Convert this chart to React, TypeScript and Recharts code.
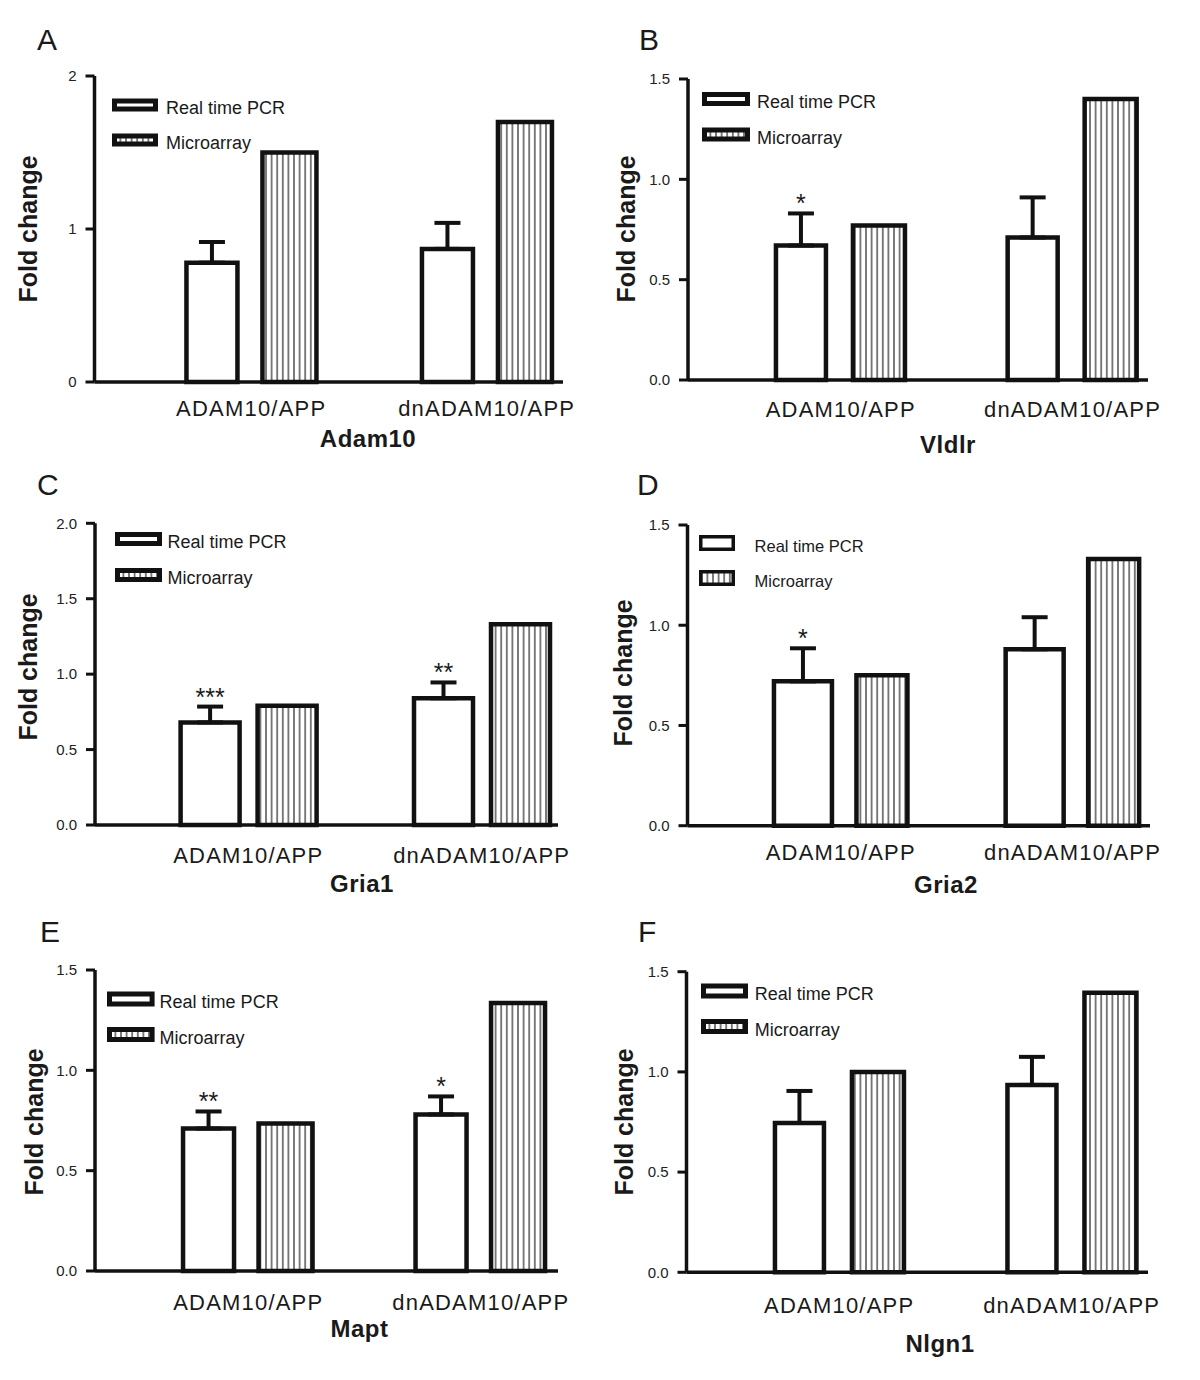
import { BarChart, Bar, XAxis, YAxis, ErrorBar, LabelList, Legend, Label } from "recharts";

const FONT = '"Liberation Sans", Arial, Helvetica, sans-serif';
const INK = "#111";

// categories shared by every panel
const groups = ["ADAM10/APP", "dnADAM10/APP"];
const seriesNames = ["Real time PCR", "Microarray"];

// A - Adam10
const adam10Pcr = [0.78, 0.87];
const adam10PcrErr = [0.135, 0.17];
const adam10Micro = [1.5, 1.7];
const adam10Stars = ["", ""];
const adam10Ticks = [0, 1, 2];

// B - Vldlr
const vldlrPcr = [0.67, 0.71];
const vldlrPcrErr = [0.16, 0.2];
const vldlrMicro = [0.77, 1.4];
const vldlrStars = ["*", ""];

// C - Gria1
const gria1Pcr = [0.68, 0.84];
const gria1PcrErr = [0.105, 0.105];
const gria1Micro = [0.79, 1.33];
const gria1Stars = ["***", "**"];
const gria1Ticks = [0, 0.5, 1, 1.5, 2];

// D - Gria2
const gria2Pcr = [0.72, 0.88];
const gria2PcrErr = [0.165, 0.16];
const gria2Micro = [0.75, 1.33];
const gria2Stars = ["*", ""];

// E - Mapt
const maptPcr = [0.71, 0.78];
const maptPcrErr = [0.085, 0.09];
const maptMicro = [0.735, 1.335];
const maptStars = ["**", "*"];

// F - Nlgn1
const nlgn1Pcr = [0.745, 0.935];
const nlgn1PcrErr = [0.16, 0.14];
const nlgn1Micro = [1.0, 1.395];
const nlgn1Stars = ["", ""];

const ticks15 = [0, 0.5, 1, 1.5];

const Y_W = 60;
const X_H = 30;

type LegendCfg = { x: number; y: number; dy: number; w: number; h: number; sw: number; tx: number; fs: number };

type Panel = {
  letter: string;
  gene: string;
  pcr: number[];
  err: number[];
  micro: number[];
  stars: string[];
  ticks: number[];
  decimals: number;
  box: [number, number, number, number];
  axisX: number;
  xEnd: number;
  yTop: number;
  yBottom: number;
  c: [number, number];
  barW: [number, number];
  gap: number;
  catDy: number;
  title: [number, number];
  fold: [number, number];
  letterPos: [number, number];
  legend: LegendCfg;
};

const panels: Panel[] = [
  {
    letter: "A", gene: "Adam10", pcr: adam10Pcr, err: adam10PcrErr, micro: adam10Micro, stars: adam10Stars,
    ticks: adam10Ticks, decimals: 0, box: [0, 0, 600, 470], axisX: 94.5, xEnd: 563, yTop: 76, yBottom: 382,
    c: [251.2, 486.7], barW: [51, 54], gap: 25, catDy: 34, title: [368, 447], fold: [37, 229], letterPos: [37, 50],
    legend: { x: 111.5, y: 104.5, dy: 35, w: 46, h: 13, sw: 5, tx: 165.5, fs: 18 },
  },
  {
    letter: "B", gene: "Vldlr", pcr: vldlrPcr, err: vldlrPcrErr, micro: vldlrMicro, stars: vldlrStars,
    ticks: ticks15, decimals: 1, box: [600, 0, 600, 470], axisX: 688, xEnd: 1148, yTop: 79, yBottom: 380,
    c: [840.8, 1072.5], barW: [50, 52], gap: 27, catDy: 37, title: [948, 453], fold: [635, 229], letterPos: [639, 50],
    legend: { x: 702, y: 99, dy: 35.5, w: 48, h: 14, sw: 5, tx: 757, fs: 18 },
  },
  {
    letter: "C", gene: "Gria1", pcr: gria1Pcr, err: gria1PcrErr, micro: gria1Micro, stars: gria1Stars,
    ticks: gria1Ticks, decimals: 1, box: [0, 455, 600, 470], axisX: 95, xEnd: 558, yTop: 523.3, yBottom: 825,
    c: [248.3, 481.7], barW: [59, 59], gap: 18, catDy: 38, title: [362, 892], fold: [37, 667], letterPos: [37, 495],
    legend: { x: 114.6, y: 539, dy: 36, w: 47, h: 14, sw: 5, tx: 167, fs: 18 },
  },
  {
    letter: "D", gene: "Gria2", pcr: gria2Pcr, err: gria2PcrErr, micro: gria2Micro, stars: gria2Stars,
    ticks: ticks15, decimals: 1, box: [600, 455, 600, 470], axisX: 687.5, xEnd: 1150, yTop: 525, yBottom: 825.7,
    c: [840.8, 1072.5], barW: [58, 51], gap: 24.5, catDy: 34, title: [946, 893], fold: [631.5, 673], letterPos: [637, 495],
    legend: { x: 699, y: 543, dy: 35, w: 36, h: 16, sw: 3.5, tx: 754.6, fs: 16.5 },
  },
  {
    letter: "E", gene: "Mapt", pcr: maptPcr, err: maptPcrErr, micro: maptMicro, stars: maptStars,
    ticks: ticks15, decimals: 1, box: [0, 910, 600, 470], axisX: 95, xEnd: 558, yTop: 970, yBottom: 1271,
    c: [248.3, 480.8], barW: [51, 54], gap: 24.5, catDy: 39, title: [359.5, 1337], fold: [43, 1122], letterPos: [40, 942],
    legend: { x: 107, y: 998.5, dy: 35.5, w: 47.6, h: 15, sw: 5, tx: 159.6, fs: 18 },
  },
  {
    letter: "F", gene: "Nlgn1", pcr: nlgn1Pcr, err: nlgn1PcrErr, micro: nlgn1Micro, stars: nlgn1Stars,
    ticks: ticks15, decimals: 1, box: [600, 910, 600, 470], axisX: 686.5, xEnd: 1148, yTop: 971.7, yBottom: 1272.3,
    c: [839.2, 1071.7], barW: [49, 52], gap: 28, catDy: 41, title: [940, 1352], fold: [633, 1122], letterPos: [638, 942],
    legend: { x: 700.8, y: 990.5, dy: 35.5, w: 47, h: 15, sw: 5, tx: 754.6, fs: 18 },
  },
];

const HatchDefs = () => (
  <svg width={0} height={0} style={{ position: "absolute" }}>
    <defs>
      <pattern id="vhatch" width={5.6} height={10} patternUnits="userSpaceOnUse">
        <rect x={0} y={0} width={5.6} height={10} fill="#fff" />
        <line x1={2.8} y1={0} x2={2.8} y2={10} stroke="#3a3a3a" strokeWidth={1.3} />
      </pattern>
    </defs>
  </svg>
);

const LegendBox = ({ p, payload }: { p: Panel; payload?: any[] }) => {
  const L = p.legend;
  // keep the series order (PCR first), whatever order the legend payload comes in
  const items = seriesNames.map((n, i) => {
    const hit = (payload || []).find((e: any) => e.value === n);
    return { value: hit ? hit.value : n, dataKey: i ? "micro" : "pcr" };
  });
  return (
    <svg width={260} height={L.dy + 32} style={{ overflow: "visible" }}>
      {items.map((it, i) => {
        const cy = 15 + i * L.dy;
        return (
          <g key={i}>
            <rect
              x={L.sw / 2}
              y={cy - L.h / 2 + L.sw / 2}
              width={L.w - L.sw}
              height={L.h - L.sw}
              fill={it.dataKey === "micro" ? "url(#vhatch)" : "#fff"}
              stroke={INK}
              strokeWidth={L.sw}
            />
            <text x={L.tx - L.x} y={cy + 3 + 0.358 * L.fs} fontSize={L.fs} fontFamily={FONT} fill="#1a1a1a">
              {it.value}
            </text>
          </g>
        );
      })}
    </svg>
  );
};

const GenePanel = ({ p }: { p: Panel }) => {
  const [bx, by, bw, bh] = p.box;
  const band = p.c[1] - p.c[0];
  const padLeft = p.c[0] - band / 2 - p.axisX;
  const padRight = p.xEnd - (p.c[1] + band / 2);
  const data = groups.map((g, i) => ({
    group: g,
    pcr: p.pcr[i],
    micro: p.micro[i],
    err: [0, p.err[i]],
    star: p.stars[i],
  }));

  const renderStar = (props: any) => {
    const vb = props.viewBox || {};
    const x = props.x ?? vb.x;
    const y = props.y ?? vb.y;
    const width = props.width ?? vb.width;
    const height = Math.abs(props.height ?? vb.height);
    const i = props.index;
    if (!props.value || i == null) return null;
    const errPx = (p.err[i] * height) / p.pcr[i];
    return (
      <text x={x + width / 2} y={y - errPx - 1} textAnchor="middle" fontSize={25} fontFamily={FONT} fill="#1a1a1a">
        {props.value}
      </text>
    );
  };

  const catTick = (props: any) => (
    <text
      x={props.x}
      y={props.y + p.catDy}
      textAnchor="middle"
      fontSize={22}
      letterSpacing={1.2}
      fontFamily={FONT}
      fill="#1a1a1a"
    >
      {props.payload.value}
    </text>
  );

  return (
    <div style={{ position: "absolute", left: bx, top: by, width: bw, height: bh }}>
      <BarChart
        width={bw}
        height={bh}
        data={data}
        barGap={p.gap}
        margin={{
          top: p.yTop - by,
          left: p.axisX - bx - Y_W,
          right: bx + bw - p.xEnd,
          bottom: by + bh - p.yBottom - X_H,
        }}
      >
        <XAxis
          dataKey="group"
          height={X_H}
          padding={{ left: padLeft, right: padRight }}
          axisLine={{ stroke: INK, strokeWidth: 3.5 }}
          tickLine={false}
          tickSize={0}
          tickMargin={0}
          interval={0}
          tick={catTick}
        >
          <Label
            content={() => (
              <text
                x={p.title[0] - bx}
                y={p.title[1] - by}
                textAnchor="middle"
                fontSize={24}
                fontWeight="bold"
                letterSpacing={0.5}
                fontFamily={FONT}
                fill="#1a1a1a"
              >
                {p.gene}
              </text>
            )}
          />
        </XAxis>
        <YAxis
          width={Y_W}
          domain={[0, p.ticks[p.ticks.length - 1]]}
          ticks={p.ticks}
          interval={0}
          tickFormatter={(v: number) => v.toFixed(p.decimals)}
          axisLine={{ stroke: INK, strokeWidth: 3.5 }}
          tickLine={{ stroke: INK, strokeWidth: 3 }}
          tickSize={9}
          tickMargin={9}
          tick={{ fontSize: 15, fill: "#222", fontFamily: FONT }}
        >
          <Label
            content={() => {
              const x = p.fold[0] - bx;
              const y = p.fold[1] - by;
              return (
                <text
                  x={x}
                  y={y}
                  transform={`rotate(-90 ${x} ${y})`}
                  textAnchor="middle"
                  fontSize={25}
                  fontWeight="bold"
                  fontFamily={FONT}
                  fill="#1a1a1a"
                >
                  Fold change
                </text>
              );
            }}
          />
        </YAxis>
        <Legend
          layout="horizontal"
          verticalAlign="middle"
          align="center"
          wrapperStyle={{ left: p.legend.x - bx, top: p.legend.y - by - 15, width: 260, height: p.legend.dy + 32 }}
          content={(props: any) => <LegendBox p={p} payload={props.payload} />}
        />
        <Bar
          dataKey="pcr"
          name={seriesNames[0]}
          barSize={p.barW[0]}
          fill="#fff"
          stroke={INK}
          strokeWidth={4.5}
          isAnimationActive={false}
        >
          <ErrorBar dataKey="err" direction="y" width={13} stroke={INK} strokeWidth={4} />
          <LabelList dataKey="star" content={renderStar} />
        </Bar>
        <Bar
          dataKey="micro"
          name={seriesNames[1]}
          barSize={p.barW[1]}
          fill="url(#vhatch)"
          stroke={INK}
          strokeWidth={4.5}
          isAnimationActive={false}
        />
      </BarChart>
    </div>
  );
};

export default function App() {
  return (
    <div style={{ position: "absolute", left: 0, top: 0, width: 1200, height: 1380, background: "#fff", fontFamily: FONT }}>
      <HatchDefs />
      {panels.map((p) => (
        <GenePanel key={p.letter} p={p} />
      ))}
      <svg width={1200} height={1380} style={{ position: "absolute", left: 0, top: 0, pointerEvents: "none" }}>
        {panels.map((p) => (
          <text key={p.letter} x={p.letterPos[0]} y={p.letterPos[1]} fontSize={30} fontFamily={FONT} fill="#1a1a1a">
            {p.letter}
          </text>
        ))}
      </svg>
    </div>
  );
}
